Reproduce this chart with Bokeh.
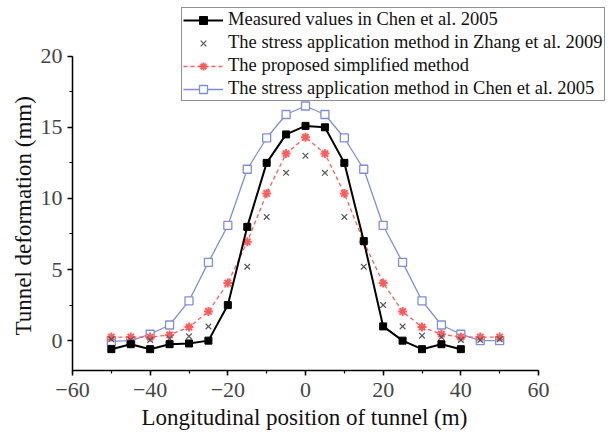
from bokeh.plotting import figure
from bokeh.models import Legend, LegendItem, FixedTicker, Range1d, Title, CustomJSTickFormatter
from bokeh.embed import file_html
from bokeh.resources import INLINE

# ---- data ----
x_measured = [-50, -45, -40, -35, -30, -25, -20, -15, -10, -5, 0, 5, 10, 15, 20, 25, 30, 35, 40]
measured = [-0.6, -0.25, -0.6, -0.25, -0.2, 0.0, 2.5, 8.0, 12.5, 14.5, 15.1, 15.0, 12.5, 7.0, 1.0, 0.0, -0.6, -0.25, -0.6]

x_all = [-50, -45, -40, -35, -30, -25, -20, -15, -10, -5, 0, 5, 10, 15, 20, 25, 30, 35, 40, 45, 50]
zhang = [0.1, 0.05, 0.05, 0.15, 0.3, 1.0, 2.5, 5.2, 8.7, 11.8, 13.0, 11.8, 8.7, 5.2, 2.5, 1.0, 0.35, 0.25, 0.05, 0.05, 0.1]
proposed = [0.25, 0.25, 0.25, 0.4, 0.95, 2.05, 4.05, 6.95, 10.35, 13.15, 14.3, 13.15, 10.35, 6.95, 4.05, 2.05, 0.95, 0.45, 0.25, 0.25, 0.25]
chen_stress = [-0.05, 0.0, 0.45, 1.1, 2.8, 5.5, 8.1, 12.05, 14.25, 15.9, 16.5, 15.9, 14.25, 12.05, 8.1, 5.5, 2.8, 1.1, 0.45, 0.0, 0.0]

labels = ["Measured values in Chen et al. 2005",
          "The stress application method in Zhang et al. 2009",
          "The proposed simplified method",
          "The stress application method in Chen et al. 2005"]

x_label = "Longitudinal position of tunnel (m)"
y_label = "Tunnel deformation (mm)"

x_ticks = [-60, -40, -20, 0, 20, 40, 60]
x_minor = [-60, -50, -40, -30, -20, -10, 0, 10, 20, 30, 40, 50, 60]
y_ticks = [0, 5, 10, 15, 20]
y_minor = [-2.5, 0, 2.5, 5, 7.5, 10, 12.5, 15, 17.5, 20]

X_LO, X_HI = -60, 60
Y_LO, Y_HI = -2.1, 20

BLUE = "#7f8fd6"
RED = "#ff5c5c"
GRAY = "#555555"

# frame is larger than the data box (so the legend can overlap the top); axes drawn only over bounds
FW, FH = 538, 370
px_per_x = 466.0 / (X_HI - X_LO)
px_per_y = 314.3 / (Y_HI - Y_LO)

p = figure(frame_width=FW, frame_height=FH, output_backend="svg", toolbar_location=None,
           x_range=Range1d(X_LO, X_LO + FW / px_per_x),
           y_range=Range1d(Y_LO, Y_LO + FH / px_per_y),
           min_border_left=72, min_border_right=0, min_border_top=0, min_border_bottom=10)
p.outline_line_color = None
p.xgrid.visible = False
p.ygrid.visible = False
p.background_fill_color = "white"

r_blue_l = p.line(x_all, chen_stress, line_color=BLUE, line_width=1.3)
r_blue_m = p.scatter(x_all, chen_stress, marker="square", size=8, line_color=BLUE,
                     fill_color="white", line_width=1.3)
r_red_l = p.line(x_all, proposed, line_color=RED, line_width=1.3, line_dash="4 3")
r_red_m = p.scatter(x_all, proposed, marker="asterisk", size=9, line_color=RED, line_width=2)
r_zh = p.scatter(x_all, zhang, marker="x", size=8, line_color=GRAY, line_width=1.2)
r_blk_l = p.line(x_measured, measured, line_color="black", line_width=2)
r_blk_m = p.scatter(x_measured, measured, marker="square", size=7, line_color="black",
                    fill_color="black")

minus_fmt = "return tick < 0 ? '\\u2212' + Math.abs(tick) : String(tick);"

for ax in (p.xaxis[0], p.yaxis[0]):
    ax.axis_line_color = "black"
    ax.axis_line_width = 1.5
    ax.major_tick_line_color = "black"
    ax.major_tick_line_width = 1.5
    ax.minor_tick_line_color = "black"
    ax.minor_tick_line_width = 1.2
    ax.major_tick_out = 5
    ax.major_tick_in = 0
    ax.minor_tick_out = 3
    ax.minor_tick_in = 0
    ax.major_label_text_font = "Liberation Serif"
    ax.major_label_text_font_size = "22px"
    ax.major_label_text_color = "#444444"
    ax.formatter = CustomJSTickFormatter(code=minus_fmt)

p.xaxis[0].bounds = (X_LO, X_HI)
p.yaxis[0].bounds = (Y_LO, Y_HI)
p.xaxis[0].ticker = FixedTicker(ticks=x_ticks, minor_ticks=x_minor)
p.yaxis[0].ticker = FixedTicker(ticks=y_ticks, minor_ticks=y_minor)
p.xaxis[0].major_label_standoff = 7
p.yaxis[0].major_label_standoff = 5

xt = Title(text=x_label, align="left", offset=69, standoff=6,
           text_font="Liberation Serif", text_font_size="23px",
           text_font_style="normal", text_color="#111111")
yt = Title(text=y_label, align="left", offset=35, standoff=4,
           text_font="Liberation Serif", text_font_size="23px",
           text_font_style="normal", text_color="#111111")
p.add_layout(xt, "below")
p.add_layout(yt, "left")

legend = Legend(items=[
    LegendItem(label=labels[0], renderers=[r_blk_l, r_blk_m]),
    LegendItem(label=labels[1], renderers=[r_zh]),
    LegendItem(label=labels[2], renderers=[r_red_l, r_red_m]),
    LegendItem(label=labels[3], renderers=[r_blue_l, r_blue_m]),
], location=(109, 269))
legend.label_text_font = "Liberation Serif"
legend.label_text_font_size = "18.5px"
legend.label_text_color = "#111111"
legend.glyph_width = 40
legend.glyph_height = 20
legend.label_height = 20
legend.label_standoff = 5
legend.spacing = 2
legend.padding = 1
legend.margin = 0
legend.border_line_color = "#222222"
legend.border_line_width = 1
legend.background_fill_alpha = 1
p.add_layout(legend, "center")

open("out.html", "w").write(file_html(p, INLINE))
